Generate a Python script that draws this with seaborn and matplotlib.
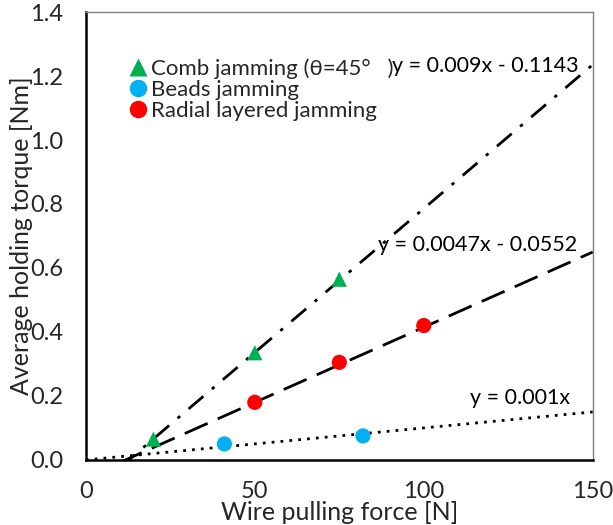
import matplotlib
matplotlib.use("Agg")
import matplotlib.pyplot as plt
import seaborn as sns
import numpy as np
import pandas as pd

# Data
comb_x = [20, 50, 75]
comb_y = [0.065, 0.335, 0.565]
beads_x = [41, 82]
beads_y = [0.05, 0.075]
radial_x = [50, 75, 100]
radial_y = [0.18, 0.305, 0.42]

series_names = ["Comb jamming (θ=45°\u2002 )", "Beads jamming", "Radial layered jamming"]
slopes = [0.009, 0.001, 0.0047]
intercepts = [-0.1143, 0.0, -0.0552]
eq_labels = ["y = 0.009x - 0.1143", "y = 0.001x", "y = 0.0047x - 0.0552"]
x_ticks = [0, 50, 100, 150]
y_ticks = [0.0, 0.2, 0.4, 0.6, 0.8, 1.0, 1.2, 1.4]

sns.set_theme(style="white")
plt.rcParams['font.family'] = ['Lato', 'Noto Sans CJK SC', 'DejaVu Sans']

df = pd.DataFrame({
    "x": comb_x + beads_x + radial_x,
    "y": comb_y + beads_y + radial_y,
    "series": [series_names[0]] * len(comb_x) + [series_names[1]] * len(beads_x) + [series_names[2]] * len(radial_x),
})

fig = plt.figure(figsize=(6.13, 5.25), dpi=100)
ax = fig.add_axes([0.140, 0.124, 0.827, 0.853])

palette = {series_names[0]: "#00B050", series_names[1]: "#00B0F0", series_names[2]: "#FF0000"}
markers = {series_names[0]: "^", series_names[1]: "o", series_names[2]: "o"}

sns.scatterplot(data=df, x="x", y="y", hue="series", style="series", palette=palette,
                markers=markers, s=120, edgecolor="none", ax=ax, zorder=3, legend=True)

# Trend lines
xl = np.array([0, 150])
styles = [(0, (7, 4, 1.2, 4)), (0, (1, 2.2)), (0, (9, 4))]
for sl, ic, ls in zip(slopes, intercepts, styles):
    ax.plot(xl, sl * xl + ic, color="black", linestyle=ls, linewidth=2, zorder=2,
            dash_capstyle="butt")

# equation labels
ax.text(90.5, 1.231, eq_labels[0], fontsize=15.5, ha="left", va="center", color="black")
ax.text(86.4, 0.672, eq_labels[2], fontsize=15.5, ha="left", va="center", color="black")
ax.text(113.6, 0.194, eq_labels[1], fontsize=15.5, ha="left", va="center", color="black")

ax.set_xlim(0, 150)
ax.set_ylim(0, 1.4)
ax.set_xticks(x_ticks)
ax.set_yticks(y_ticks)
ax.set_xticklabels([str(v) for v in x_ticks])
ax.set_yticklabels([f"{v:.1f}" for v in y_ticks])
ax.tick_params(axis="both", direction="in", length=6, width=1.2, labelsize=17, color="black")
ax.tick_params(axis="y", pad=16.5)
ax.tick_params(axis="x", pad=15.5)

ax.set_xlabel("Wire pulling force [N]", fontsize=18, labelpad=-1)
ax.set_ylabel("Average holding torque [Nm]", fontsize=18, labelpad=-2)

for side in ["left", "bottom"]:
    ax.spines[side].set_color("black")
    ax.spines[side].set_linewidth(1.8)
for side in ["top", "right"]:
    ax.spines[side].set_color("#808080")
    ax.spines[side].set_linewidth(1.0)

leg = ax.legend(loc="upper left", bbox_to_anchor=(0.085, 0.897), frameon=False, fontsize=16,
                handlelength=0.8, handletextpad=0.2, labelspacing=0.05, borderaxespad=0,
                borderpad=0, markerscale=1.15)

fig.savefig("out.png", dpi=100)
